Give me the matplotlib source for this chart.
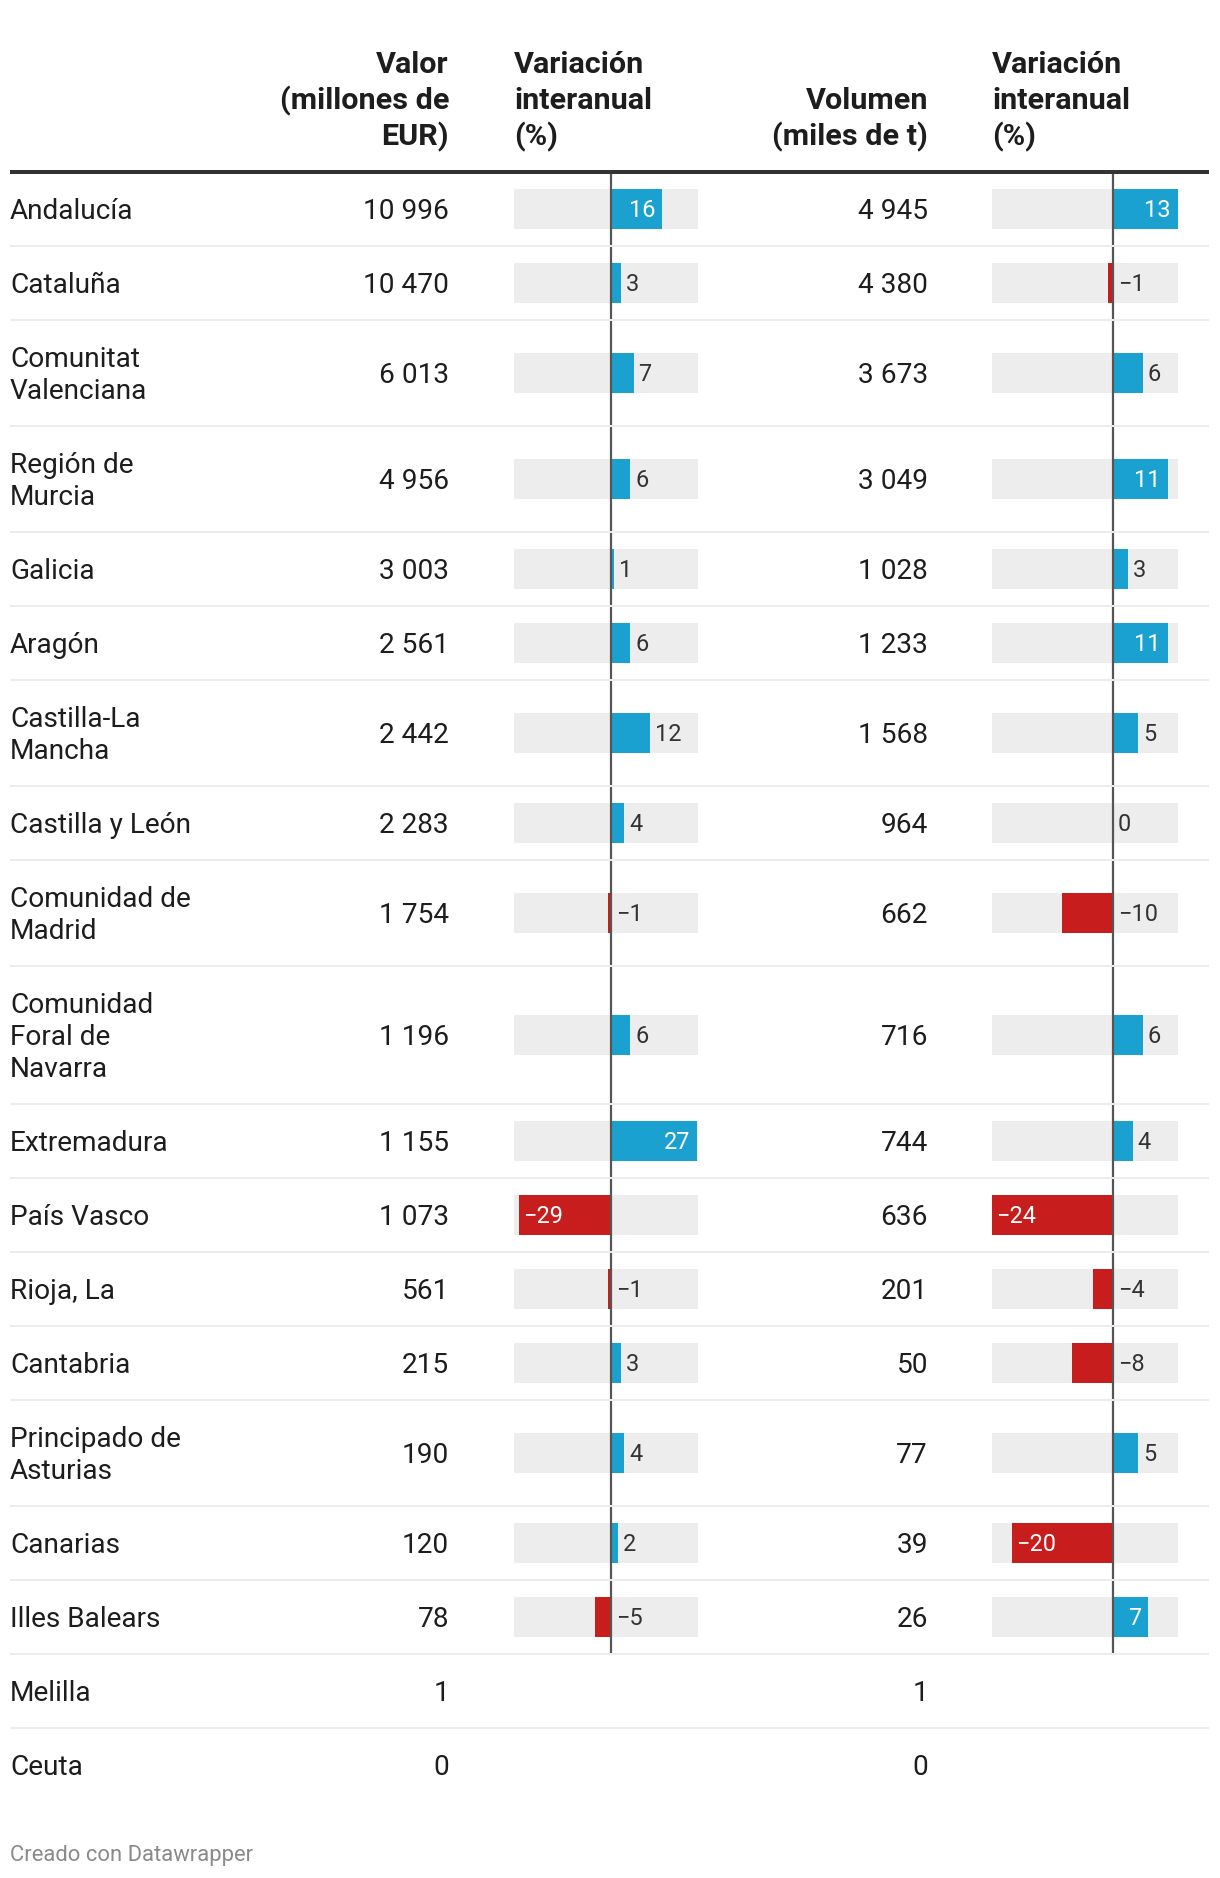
import numpy as np
import matplotlib
matplotlib.use('Agg')
import matplotlib.pyplot as plt
from matplotlib.transforms import offset_copy

plt.rcParams['font.family'] = ['Roboto', 'DejaVu Sans']

# data
regions = ["Andalucía", "Cataluña", "Comunitat\nValenciana", "Región de\nMurcia",
           "Galicia", "Aragón", "Castilla-La\nMancha", "Castilla y León",
           "Comunidad de\nMadrid", "Comunidad\nForal de\nNavarra", "Extremadura",
           "País Vasco", "Rioja, La", "Cantabria", "Principado de\nAsturias",
           "Canarias", "Illes Balears", "Melilla", "Ceuta"]
valor = [10996, 10470, 6013, 4956, 3003, 2561, 2442, 2283, 1754, 1196, 1155,
         1073, 561, 215, 190, 120, 78, 1, 0]
var_valor = [16, 3, 7, 6, 1, 6, 12, 4, -1, 6, 27, -29, -1, 3, 4, 2, -5, None, None]
volumen = [4945, 4380, 3673, 3049, 1028, 1233, 1568, 964, 662, 716, 744, 636,
           201, 50, 77, 39, 26, 1, 0]
var_vol = [13, -1, 6, 11, 3, 11, 5, 0, -10, 6, 4, -24, -4, -8, 5, -20, 7, None, None]

headers = ["Valor\n(millones de\nEUR)", "Variación\ninteranual\n(%)",
           "Volumen\n(miles de t)", "Variación\ninteranual\n(%)"]

W, H = 1220, 1878
BLUE, RED, GREY = '#1ba1cf', '#c71e1d', '#ededed'
TXT = '#1d1d1d'
PX = 0.72  # points per pixel at dpi 100

fig = plt.figure(figsize=(W / 100, H / 100), dpi=100)

# row layout (pixels, top-down)
nlines = [r.count('\n') + 1 for r in regions]
heights = [42.3 + 31.8 * n for n in nlines]
bounds = 172 + np.concatenate([[0], np.cumsum(heights)])
centers = (bounds[:-1] + bounds[1:]) / 2
bar_rows = [i for i, v in enumerate(var_valor) if v is not None]
zero_bottom = bounds[max(bar_rows) + 1]


def fmt(v):
    return f"{v:,}".replace(",", " ")


def fmt_pct(v):
    return str(v).replace("-", "\u2212")


def bar_column(x0, x1, vals, lims):
    bx = fig.add_axes([x0 / W, 0, (x1 - x0) / W, 1])
    bx.set_xlim(*lims)
    bx.set_ylim(H, 0)
    bx.axis('off')
    ppu = (x1 - x0) / (lims[1] - lims[0])
    ys = [centers[i] for i in bar_rows]
    v = np.array([vals[i] for i in bar_rows], dtype=float)
    bx.barh(ys, lims[1] - lims[0], left=lims[0], height=40, color=GREY, lw=0)
    bx.barh(ys, v, height=40, color=[BLUE if x >= 0 else RED for x in v], lw=0)
    bx.vlines(0, 174, zero_bottom, color='#555555', lw=1.6, zorder=3)
    for y, val in zip(ys, v):
        s = fmt_pct(int(val))
        fits = abs(val) * ppu >= len(s) * 12 + 20
        if fits and val > 0:
            x, dx, ha, c = val, -7, 'right', 'white'
        elif fits:
            x, dx, ha, c = val, 4, 'left', 'white'
        elif val > 0:
            x, dx, ha, c = val, 5, 'left', '#333333'
        else:
            x, dx, ha, c = 0, 5, 'left', '#333333'
        tr = offset_copy(bx.transData, fig=fig, x=dx, y=0, units='dots')
        bx.text(x, y + 8.2, s, transform=tr, ha=ha, va='baseline',
                fontsize=23.5 * PX, color=c, zorder=4)
    return bx


bar_column(514, 698, var_valor, (-30.5, 27.2))
bar_column(992, 1178, var_vol, (-24, 13))

# main layer for text and rules
ax = fig.add_axes([0, 0, 1, 1])
ax.set_xlim(0, W)
ax.set_ylim(H, 0)
ax.axis('off')
ax.set_zorder(5)
ax.patch.set_alpha(0)

# header
for hx, ha, txt in zip([449, 514, 928, 992], ['right', 'left', 'right', 'left'], headers):
    lines = txt.split('\n')
    for k, line in enumerate(lines):
        ax.text(hx, 145 - 36 * (len(lines) - 1 - k), line, ha=ha, va='baseline',
                fontsize=30.5 * PX, fontweight='bold', color=TXT)
ax.hlines(172, 10, 1209, color='#333333', lw=4 * PX)

# body
for i, name in enumerate(regions):
    lines = name.split('\n')
    for k, line in enumerate(lines):
        ax.text(10, centers[i] + 10 + (k - (len(lines) - 1) / 2) * 31.8, line,
                ha='left', va='baseline', fontsize=28 * PX, color=TXT)
    ax.text(449, centers[i] + 10, fmt(valor[i]), ha='right', va='baseline',
            fontsize=28 * PX, color=TXT)
    ax.text(928, centers[i] + 10, fmt(volumen[i]), ha='right', va='baseline',
            fontsize=28 * PX, color=TXT)
ax.hlines(bounds[1:-1], 10, 1209, color='#ececec', lw=2 * PX)

ax.text(10, 1861, "Creado con Datawrapper", ha='left', va='baseline',
        fontsize=22 * PX, color='#8a8a8a')

fig.savefig('out.png', dpi=100)
